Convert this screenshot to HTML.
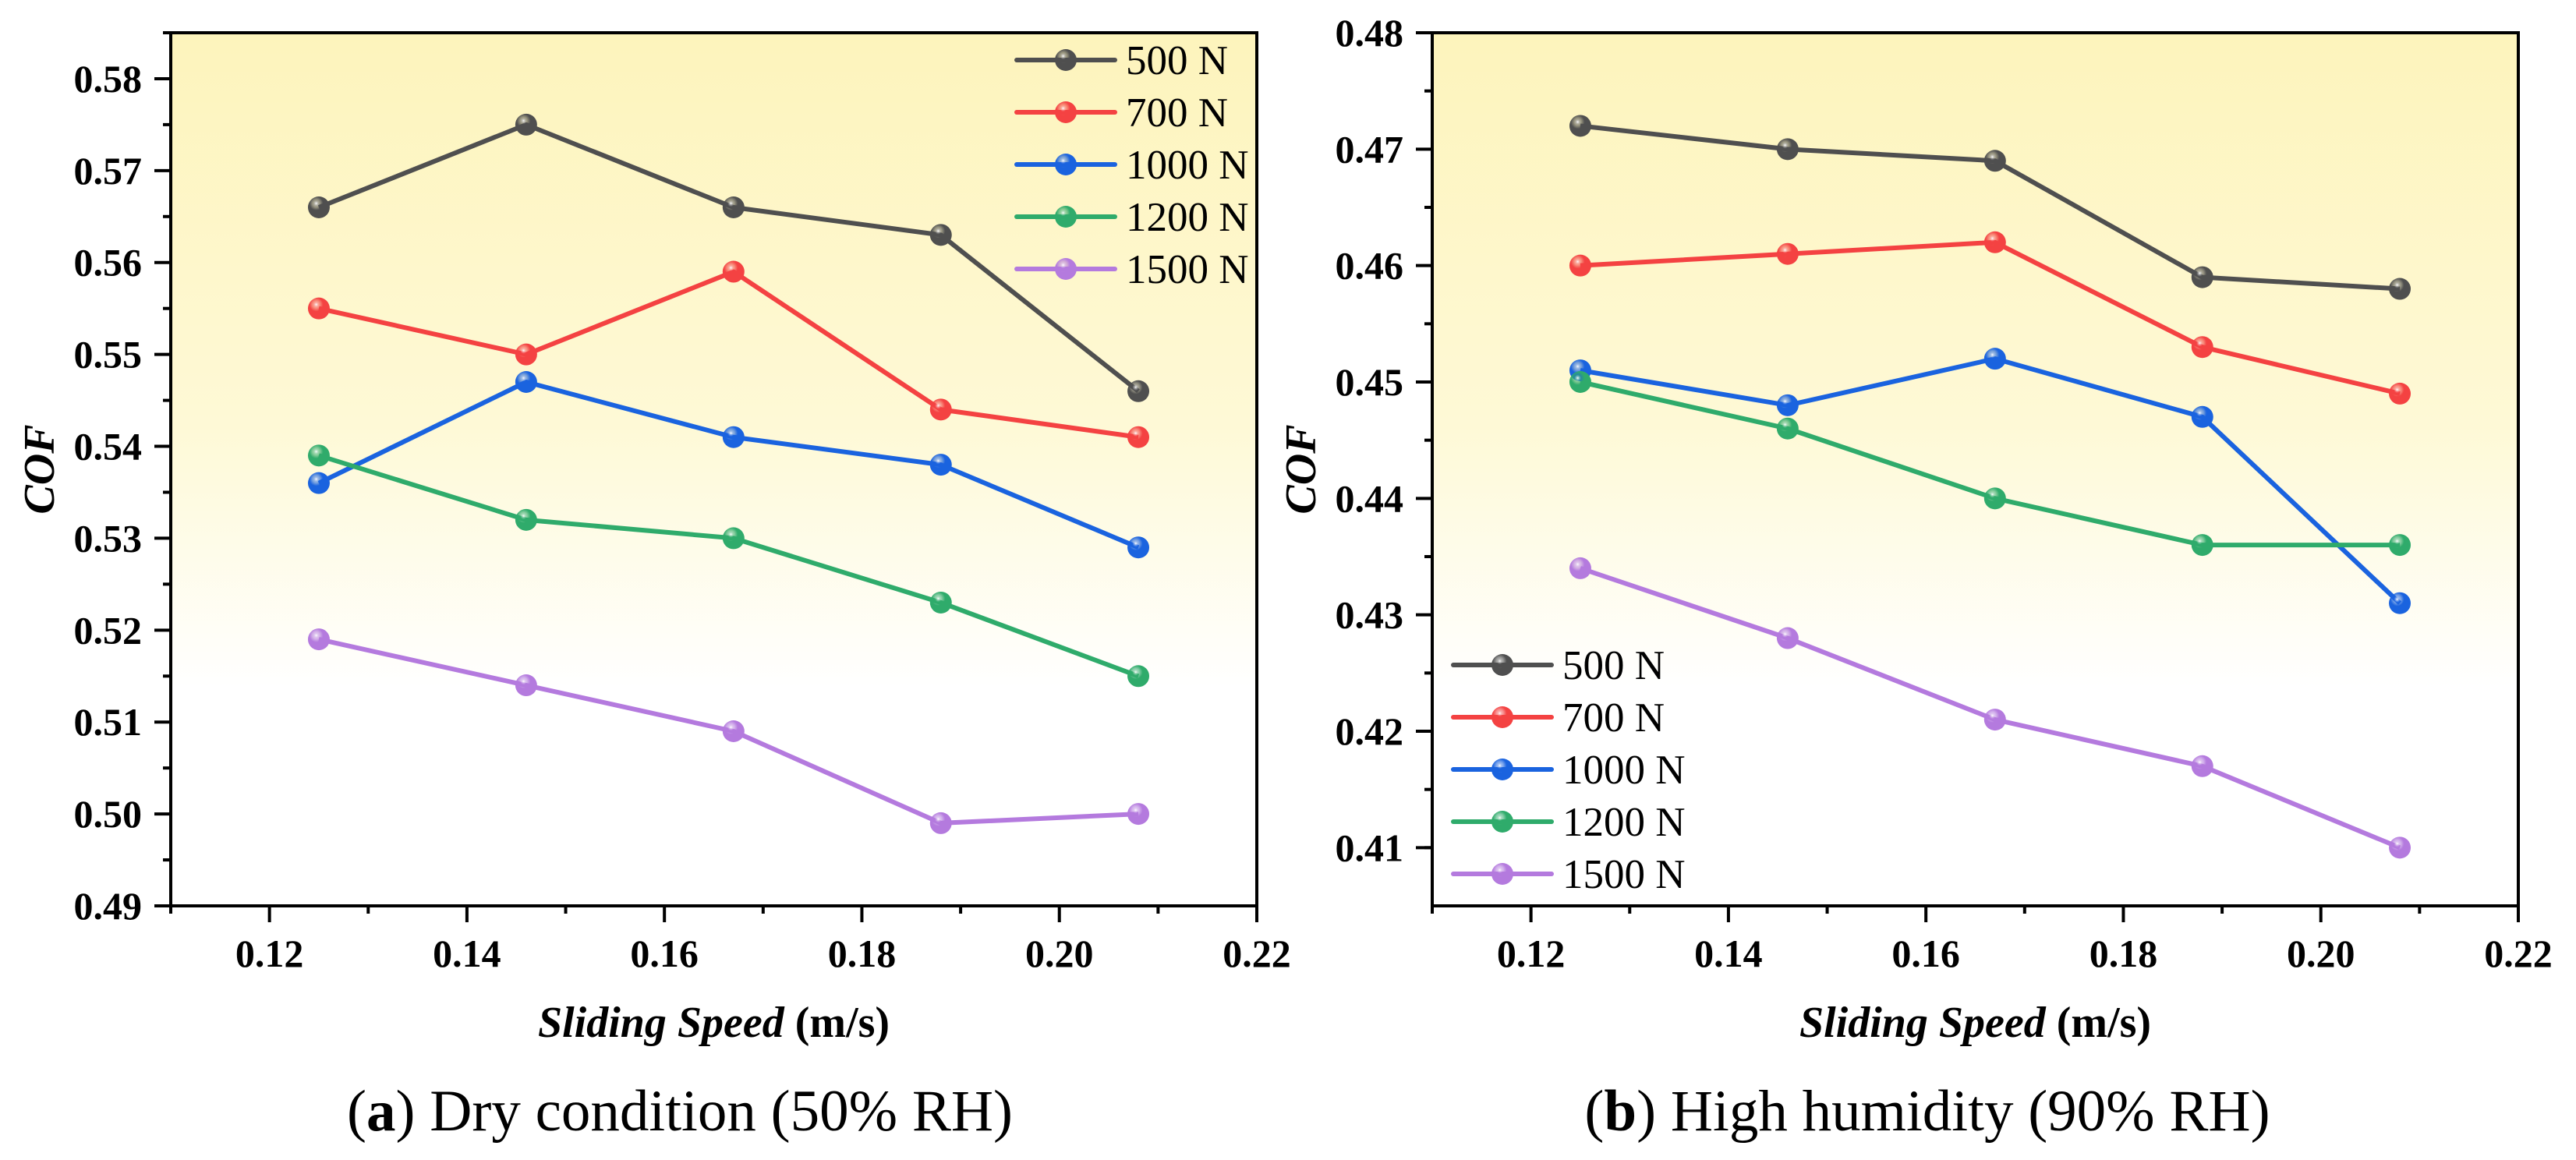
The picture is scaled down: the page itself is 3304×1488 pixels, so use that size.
<!DOCTYPE html>
<html><head><meta charset="utf-8">
<style>
html,body{margin:0;padding:0;background:#fff;}
svg{display:block;}
text{font-family:"Liberation Serif",serif;}
</style></head>
<body>
<svg id="fig" width="3304" height="1488" viewBox="0 0 3304 1488" xmlns="http://www.w3.org/2000/svg">
<defs>
<linearGradient id="bg" x1="0" y1="0" x2="0" y2="1">
<stop offset="0" stop-color="#fdf4bc"/>
<stop offset="0.45" stop-color="#fef9d6"/>
<stop offset="0.75" stop-color="#ffffff"/>
<stop offset="1" stop-color="#ffffff"/>
</linearGradient>
</defs>
</svg>
<script>
const speeds = [0.125, 0.146, 0.167, 0.188, 0.208];
const seriesNames = ["500 N", "700 N", "1000 N", "1200 N", "1500 N"];
const colors = ["#4f4f4f", "#f44242", "#1a63df", "#2fab6b", "#b47ade"];
const dry500 = [0.566, 0.575, 0.566, 0.563, 0.546];
const dry700 = [0.555, 0.550, 0.559, 0.544, 0.541];
const dry1000 = [0.536, 0.547, 0.541, 0.538, 0.529];
const dry1200 = [0.539, 0.532, 0.530, 0.523, 0.515];
const dry1500 = [0.519, 0.514, 0.509, 0.499, 0.500];
const hum500 = [0.472, 0.470, 0.469, 0.459, 0.458];
const hum700 = [0.460, 0.461, 0.462, 0.453, 0.449];
const hum1000 = [0.451, 0.448, 0.452, 0.447, 0.431];
const hum1200 = [0.450, 0.446, 0.440, 0.436, 0.436];
const hum1500 = [0.434, 0.428, 0.421, 0.417, 0.410];
const xTickLabels = ["0.12", "0.14", "0.16", "0.18", "0.20", "0.22"];
const dryYTickLabels = ["0.49","0.50","0.51","0.52","0.53","0.54","0.55","0.56","0.57","0.58"];
const humYTickLabels = ["0.41","0.42","0.43","0.44","0.45","0.46","0.47","0.48"];

const NS = "http://www.w3.org/2000/svg";
const svg = document.getElementById("fig");
function mk(tag, attrs, parent) {
  const e = document.createElementNS(NS, tag);
  for (const k in attrs) e.setAttribute(k, attrs[k]);
  (parent || svg).appendChild(e);
  return e;
}
colors.forEach((c, i) => {
  const defs = svg.querySelector("defs");
  const g = mk("radialGradient", {id: "mg" + i, cx: "0.38", cy: "0.32", r: "0.7"}, defs);
  mk("stop", {offset: "0", "stop-color": "#ffffff"}, g);
  mk("stop", {offset: "0.22", "stop-color": c, "stop-opacity": "0.55"}, g);
  mk("stop", {offset: "0.45", "stop-color": c}, g);
  mk("stop", {offset: "1", "stop-color": c}, g);
});

function drawChart(cfg) {
  const {L, R, T, B, xMin, xMax, yMin, yMax, yLabels, series, legendX, legendY, key, caption, capBold, capX} = cfg;
  const grp = mk("g", {});
  
  
  const sx = v => L + (v - xMin) / (xMax - xMin) * (R - L);
  const sy = v => B - (v - yMin) / (yMax - yMin) * (B - T);
  const bgr = mk("rect", {x: L, y: T, width: R - L, height: B - T, fill: "url(#bg)"}, grp);
  
  
  for (let k = 0; k <= 11; k++) {
    const v = 0.11 + k * 0.01;
    const x = sx(v);
    const major = (k % 2 === 1);
    mk("line", {x1: x, x2: x, y1: B, y2: B + (major ? 21 : 10), stroke: "#000", "stroke-width": 4}, grp);
  }
  xTickLabels.forEach((lab) => {
    const t = mk("text", {x: sx(parseFloat(lab)), y: 1240, "text-anchor": "middle", "font-size": 50, "font-weight": "bold"}, grp);
    t.textContent = lab;
    
    
  });
  yLabels.forEach((lab) => {
    const v = parseFloat(lab);
    const y = sy(v);
    mk("line", {x1: L - 21, x2: L, y1: y, y2: y, stroke: "#000", "stroke-width": 4}, grp);
    const ym = sy(v + 0.005);
    if (ym >= T - 1) mk("line", {x1: L - 10, x2: L, y1: ym, y2: ym, stroke: "#000", "stroke-width": 4}, grp);
    const t = mk("text", {x: L - 37, y: y + 17, "text-anchor": "end", "font-size": 50, "font-weight": "bold"}, grp);
    t.textContent = lab;
    
    
  });
  const yMinor = sy(yMin + 0.005);
  mk("line", {x1: L - 10, x2: L, y1: yMinor, y2: yMinor, stroke: "#000", "stroke-width": 4}, grp);
  const fr = mk("rect", {x: L, y: T, width: R - L, height: B - T, fill: "none", stroke: "#000", "stroke-width": 4}, grp);
  
  
  series.forEach((vals, si) => {
    const pts = vals.map((v, i) => sx(speeds[i]) + "," + sy(v)).join(" ");
    const pl = mk("polyline", {points: pts, fill: "none", stroke: colors[si], "stroke-width": 6, "stroke-linejoin": "round"}, grp);
    
    
  });
  series.forEach((vals, si) => {
    vals.forEach((v, i) => {
      const c = mk("circle", {cx: sx(speeds[i]), cy: sy(v), r: 14, fill: "url(#mg" + si + ")"}, grp);
      
      
    });
  });
  seriesNames.forEach((nm, si) => {
    const y = legendY + si * 67;
    const lg = mk("g", {}, grp);
    
    
    mk("line", {x1: legendX, x2: legendX + 126, y1: y, y2: y, stroke: colors[si], "stroke-width": 6, "stroke-linecap": "round"}, lg);
    mk("circle", {cx: legendX + 63, cy: y, r: 14, fill: "url(#mg" + si + ")"}, lg);
    const t = mk("text", {x: legendX + 140, y: y + 18, "font-size": 53}, lg);
    t.textContent = nm;
  });
  const xt = mk("text", {x: (L + R) / 2, y: 1330, "text-anchor": "middle", "font-size": 56, "font-weight": "bold"}, grp);
  xt.innerHTML = '<tspan font-style="italic">Sliding Speed</tspan> (m/s)';
  
  
  const yx = L - 150, yy = (T + B) / 2;
  const yt = mk("text", {x: yx, y: yy, transform: "rotate(-90 " + yx + " " + yy + ")", "text-anchor": "middle", "font-size": 56, "font-weight": "bold", "font-style": "italic"}, grp);
  yt.textContent = "COF";
  
  
  const cp = mk("text", {x: capX, y: 1450, "text-anchor": "middle", "font-size": 75}, grp);
  cp.innerHTML = '(<tspan font-weight="bold">' + capBold + '</tspan>) ' + caption;
  
  
}

drawChart({L: 219, R: 1612, T: 42, B: 1162, xMin: 0.11, xMax: 0.22, yMin: 0.49, yMax: 0.585,
  yLabels: dryYTickLabels, series: [dry500, dry700, dry1000, dry1200, dry1500],
  legendX: 1304, legendY: 77, key: "dry", capBold: "a", caption: "Dry condition (50% RH)", capX: 872});
drawChart({L: 1837, R: 3230, T: 42, B: 1162, xMin: 0.11, xMax: 0.22, yMin: 0.405, yMax: 0.48,
  yLabels: humYTickLabels, series: [hum500, hum700, hum1000, hum1200, hum1500],
  legendX: 1864, legendY: 853, key: "humid", capBold: "b", caption: "High humidity (90% RH)", capX: 2472});
</script>
</body></html>
